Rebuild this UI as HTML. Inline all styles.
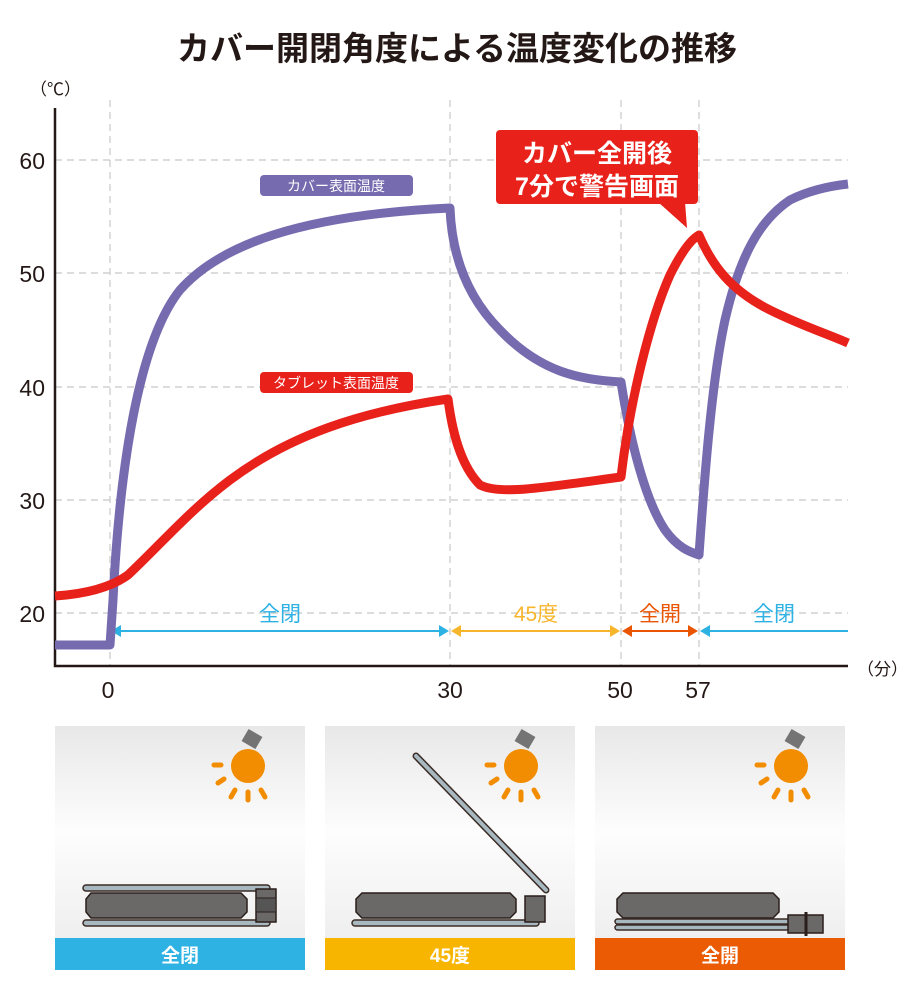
<!DOCTYPE html>
<html><head><meta charset="utf-8"><style>
body{margin:0;background:#fff;width:915px;height:995px;overflow:hidden;font-family:"Liberation Sans","Noto Sans CJK JP",sans-serif}
</style></head><body>
<svg width="915" height="995" viewBox="0 0 915 995" xmlns="http://www.w3.org/2000/svg" font-family="Liberation Sans, Noto Sans CJK JP, sans-serif">
<defs>
<linearGradient id="bg" x1="0" y1="0" x2="0" y2="1">
<stop offset="0" stop-color="#e8e8e8"/><stop offset="0.5" stop-color="#fdfdfd"/><stop offset="1" stop-color="#efefef"/>
</linearGradient>
<g id="sun">
<rect x="-4" y="-34" width="16" height="14" fill="#747474" transform="rotate(30 4 -27)"/>
<circle cx="0" cy="0" r="17" fill="#f28c00"/>
<g stroke="#f28c00" stroke-width="5" stroke-linecap="round">
<line x1="-34" y1="-1" x2="-27" y2="-1"/>
<line x1="-30" y1="17" x2="-24" y2="13"/>
<line x1="-17" y1="31" x2="-13" y2="24"/>
<line x1="0" y1="34" x2="0" y2="26"/>
<line x1="17" y1="31" x2="13" y2="24"/>
</g>
</g>
</defs>
<text x="457" y="60" text-anchor="middle" font-size="33" font-weight="bold" fill="#231815">カバー開閉角度による温度変化の推移</text>
<text x="30" y="95" font-size="17" fill="#231815">（℃）</text>
<text x="857" y="675" font-size="17" fill="#231815">（分）</text>
<g stroke="#c8c8c8" stroke-width="1.2" stroke-dasharray="7,5">
<line x1="55" y1="160" x2="848" y2="160"/><line x1="55" y1="273" x2="848" y2="273"/>
<line x1="55" y1="387" x2="848" y2="387"/><line x1="55" y1="500" x2="848" y2="500"/>
<line x1="55" y1="613" x2="848" y2="613"/>
<line x1="110" y1="100" x2="110" y2="665"/><line x1="450" y1="100" x2="450" y2="665"/>
<line x1="621" y1="100" x2="621" y2="665"/><line x1="699" y1="100" x2="699" y2="665"/>
</g>
<path d="M55 108 V666 H848" fill="none" stroke="#231815" stroke-width="2.5"/>
<g font-size="23" fill="#231815" text-anchor="end">
<text x="45" y="169">60</text><text x="45" y="282">50</text><text x="45" y="396">40</text><text x="45" y="509">30</text><text x="45" y="622">20</text>
</g>
<g font-size="23" fill="#231815" text-anchor="middle">
<text x="108" y="698">0</text><text x="450" y="698">30</text><text x="620" y="698">50</text><text x="698" y="698">57</text>
</g>
<g stroke-width="2">
<line x1="115" y1="631" x2="445" y2="631" stroke="#2eb2e4"/>
<line x1="455" y1="631" x2="616" y2="631" stroke="#f7b52c"/>
<line x1="626" y1="631" x2="694" y2="631" stroke="#ea5504"/>
<line x1="704" y1="631" x2="848" y2="631" stroke="#2eb2e4"/>
</g>
<polygon points="111,631 121,625 121,637" fill="#2eb2e4"/><polygon points="449,631 439,625 439,637" fill="#2eb2e4"/>
<polygon points="451,631 461,625 461,637" fill="#f7b52c"/><polygon points="620,631 610,625 610,637" fill="#f7b52c"/>
<polygon points="622,631 632,625 632,637" fill="#ea5504"/><polygon points="698,631 688,625 688,637" fill="#ea5504"/>
<polygon points="700,631 710,625 710,637" fill="#2eb2e4"/>
<g font-size="21" text-anchor="middle">
<text x="280" y="621" fill="#2eb2e4">全閉</text>
<text x="536" y="621" fill="#f7b52c">45度</text>
<text x="660" y="621" fill="#ea5504">全開</text>
<text x="774" y="621" fill="#2eb2e4">全閉</text>
</g>
<path d="M55 645 H110 L113 600 C120 460 140 340 180 290 C220 245 300 215 450 208 C452 260 470 300 500 330 C540 372 580 380 621 382 C630 440 645 500 665 530 C678 548 690 552 699 555 C705 470 712 380 725 320 C740 255 760 220 790 200 C810 190 830 186 848 184" fill="none" stroke="#776bb0" stroke-width="9" stroke-linejoin="round"/>
<path d="M55 596 C85 594 110 588 128 575 C160 545 190 510 230 480 C290 435 360 412 448 399 C452 430 460 465 480 485 C500 495 540 488 621 477 C630 400 650 320 670 275 C680 255 690 240 699 235 C712 265 730 290 770 310 C800 325 830 335 848 343" fill="none" stroke="#e8211b" stroke-width="9" stroke-linejoin="round"/>
<rect x="260" y="175" width="153" height="21" rx="4" fill="#776bb0"/>
<text x="336" y="191" text-anchor="middle" font-size="14" fill="#fff">カバー表面温度</text>
<rect x="260" y="372" width="153" height="21" rx="4" fill="#e8211b"/>
<text x="336" y="388" text-anchor="middle" font-size="14" fill="#fff">タブレット表面温度</text>
<rect x="496" y="130" width="202" height="74" rx="4" fill="#e8211b"/>
<polygon points="658,202 687,228 685,202" fill="#e8211b"/>
<text x="597" y="162" text-anchor="middle" font-size="25" font-weight="bold" fill="#fff">カバー全開後</text>
<text x="597" y="195" text-anchor="middle" font-size="25" font-weight="bold" fill="#fff">7分で警告画面</text>
<g transform="translate(55,726)">
<rect width="250" height="212" fill="url(#bg)"/>
<use href="#sun" x="193" y="40"/>
<rect x="28" y="159" width="187" height="6" rx="3" fill="#a8b8c0" stroke="#3a2a24" stroke-width="1.5"/>
<polygon points="36,167 186,167 192,173 192,186 186,192 36,192 31,186 31,173" fill="#6b6868" stroke="#2a1e1a" stroke-width="1.5"/>
<rect x="28" y="194" width="187" height="6" rx="3" fill="#a8b8c0" stroke="#3a2a24" stroke-width="1.5"/>
<rect x="201" y="163" width="20" height="33" fill="#6b6868" stroke="#2a1e1a" stroke-width="1.5"/>
<rect x="201" y="172" width="20" height="14" fill="#555" stroke="#2a1e1a" stroke-width="1"/>
<rect x="0" y="212" width="250" height="32" fill="#2eb2e4"/>
<text x="125" y="236" text-anchor="middle" font-size="19" font-weight="bold" fill="#fff">全閉</text>
</g>
<g transform="translate(325,726)">
<rect width="250" height="212" fill="url(#bg)"/>
<use href="#sun" x="196" y="40"/>
<line x1="91" y1="30" x2="221" y2="164" stroke="#3a2a24" stroke-width="7" stroke-linecap="round"/>
<line x1="91" y1="30" x2="221" y2="164" stroke="#a8b8c0" stroke-width="4" stroke-linecap="round"/>
<polygon points="37,167 185,167 191,173 191,186 185,192 37,192 31,186 31,173" fill="#6b6868" stroke="#2a1e1a" stroke-width="1.5"/>
<rect x="27" y="194" width="187" height="6" rx="3" fill="#a8b8c0" stroke="#3a2a24" stroke-width="1.5"/>
<rect x="200" y="170" width="20" height="26" fill="#6b6868" stroke="#2a1e1a" stroke-width="1.5"/>
<rect x="0" y="212" width="250" height="32" fill="#f7b500"/>
<text x="125" y="236" text-anchor="middle" font-size="19" font-weight="bold" fill="#fff">45度</text>
</g>
<g transform="translate(595,726)">
<rect width="250" height="212" fill="url(#bg)"/>
<use href="#sun" x="196" y="40"/>
<polygon points="28,167 178,167 184,173 184,186 178,192 28,192 22,186 22,173" fill="#6b6868" stroke="#2a1e1a" stroke-width="1.5"/>
<rect x="20" y="193" width="190" height="5" rx="2.5" fill="#a8b8c0" stroke="#3a2a24" stroke-width="1.5"/>
<rect x="20" y="199" width="190" height="5" rx="2.5" fill="#a8b8c0" stroke="#3a2a24" stroke-width="1.5"/>
<rect x="193" y="189" width="35" height="18" fill="#6b6868" stroke="#2a1e1a" stroke-width="1.5"/>
<line x1="211" y1="186" x2="211" y2="210" stroke="#2a1e1a" stroke-width="3"/>
<rect x="0" y="212" width="250" height="32" fill="#ea5b04"/>
<text x="125" y="236" text-anchor="middle" font-size="19" font-weight="bold" fill="#fff">全開</text>
</g>
</svg>
</body></html>
